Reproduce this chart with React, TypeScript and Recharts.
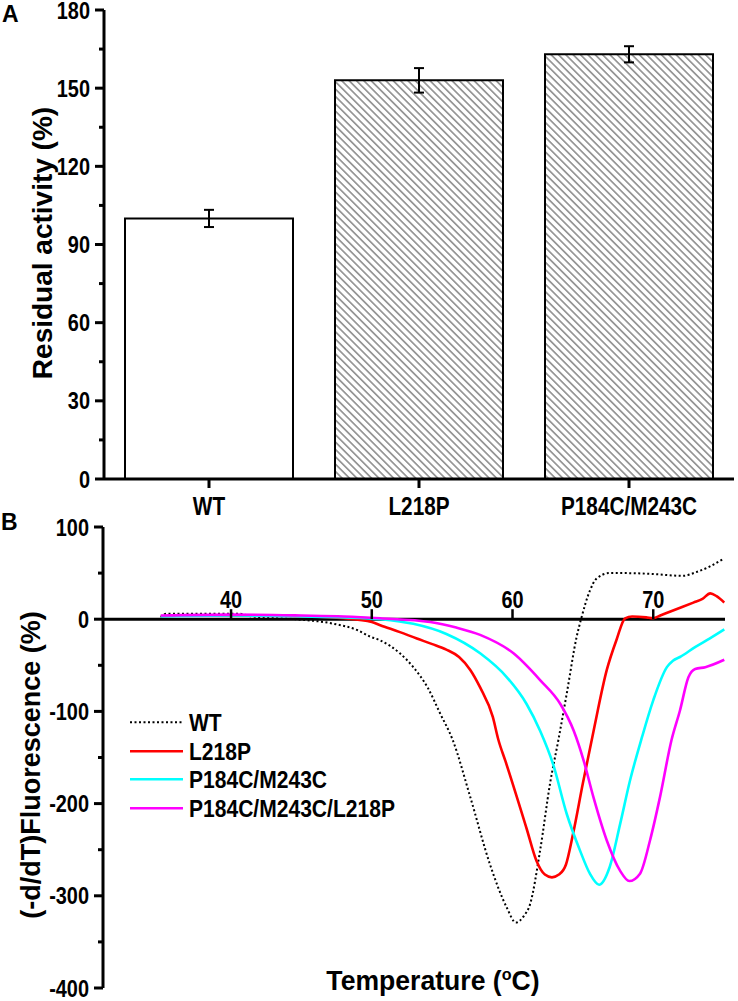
import {
  Bar,
  BarChart,
  Cell,
  ErrorBar,
  Legend,
  Line,
  LineChart,
  ReferenceDot,
  ReferenceLine,
  XAxis,
  YAxis,
} from "recharts";

const FONT = "'Liberation Sans', Arial, Helvetica, sans-serif";
// the figure's lettering is condensed horizontally
const SX = 0.83;

// ---- panel A: residual activity ----
const variants = ["WT", "L218P", "P184C/M243C"];
const activity = [100, 153, 163];
const activityErr = [3.3, 4.7, 3.1];
const activityTicks = [0, 15, 30, 45, 60, 75, 90, 105, 120, 135, 150, 165, 180];

// ---- panel B: melting curves, -d/dT fluorescence ----
const wtTemp = [35, 35.4, 38, 40.5, 41.5, 44.6, 47.3, 49, 49.9, 50.6, 52, 52.95, 54, 54.85, 55.75, 57, 58.4, 59.6, 60.24, 60.8, 61.25, 61.96, 62.67, 63.26, 63.85, 64.56, 64.87, 65.5, 65.97, 66.9, 68, 70, 72.1, 73.05, 74, 75.05];
const wtDeriv = [2, 6, 6, 6, 3, 0, -5, -12, -19, -23, -37, -52, -75, -102, -131, -193, -266, -313, -329, -322, -309, -251, -178, -131, -81, -19, 0, 31, 44, 50, 50, 49, 47, 51, 57, 66];

const l218pTemp = [35, 37, 40, 45, 48, 50, 50.6, 52, 53.2, 54.3, 55.3, 56.2, 57, 57.7, 58.6, 59, 59.5, 61, 61.7, 62.3, 62.8, 63.3, 63.8, 64.3, 65, 65.75, 66.7, 67.4, 68, 68.5, 69.5, 70, 70.5, 71.5, 72.85, 73.5, 74.05, 74.5, 75.05];
const l218pDeriv = [3, 4, 4, 3, 1, -3, -6.5, -14, -21, -27, -33, -41, -55, -74, -106, -131, -154, -227, -262, -277, -280, -277, -266, -233, -178, -122, -55, -22, 1, 3, 2, 1, 4, 10, 18, 22, 28, 25, 18];

const dsTemp = [35, 40, 45, 48, 50.6, 52.95, 55.3, 57.7, 59.6, 61, 61.96, 62.9, 63.85, 64.8, 65.5, 66.15, 66.9, 67.65, 68.35, 69.2, 70, 70.97, 71.4, 71.9, 73, 74, 75.05];
const dsDeriv = [3, 4, 3, 2, 0, -5, -16, -37, -63, -92, -121, -158, -211, -251, -276, -288, -269, -222, -175, -128, -88, -52, -45, -41, -30, -21, -11];

const dsL218pTemp = [35, 40, 45, 48, 50.6, 54.15, 56, 57.7, 60.07, 61.96, 63.4, 64.35, 65.05, 65.75, 66.7, 67.65, 68.3, 69.06, 69.77, 70.48, 71.3, 71.9, 72.5, 72.98, 73.7, 75.05];
const dsL218pDeriv = [4, 5, 4, 3, 1, -3, -9, -17, -37, -66, -92, -121, -153, -193, -240, -273, -284, -276, -240, -193, -131, -99, -63, -54, -52, -44];

const tempTicks = [40, 50, 60, 70];
const derivTicks = [100, 50, 0, -50, -100, -150, -200, -250, -300, -350, -400];

const toPoints = (t: number[], v: number[]) => t.map((x, i) => ({ t: x, v: v[i] }));

const SERIES = [
  { name: "WT", data: toPoints(wtTemp, wtDeriv), color: "#000000", dash: "2 2.5", width: 2 },
  { name: "L218P", data: toPoints(l218pTemp, l218pDeriv), color: "#ff0000", dash: undefined, width: 2.6 },
  { name: "P184C/M243C", data: toPoints(dsTemp, dsDeriv), color: "#00ffff", dash: undefined, width: 2.6 },
  { name: "P184C/M243C/L218P", data: toPoints(dsL218pTemp, dsL218pDeriv), color: "#ff00ff", dash: undefined, width: 2.6 },
];

const barData = variants.map((name, i) => ({ name, value: activity[i], err: activityErr[i] }));

const axisStyle = { stroke: "#000", strokeWidth: 3 };

function YTick(props: any) {
  const { x, y, payload, step } = props;
  const major = payload.value % step === 0;
  return (
    <g>
      <line x1={x} x2={x - (major ? 9 : 5)} y1={y} y2={y} stroke="#000" strokeWidth={3} />
      {major && (
        <text
          transform={`translate(${x - 14},${y + 8.5}) scale(${SX},1)`}
          textAnchor="end"
          fontSize={24}
          fontWeight="bold"
          fontFamily={FONT}
          fill="#000"
        >
          {payload.value}
        </text>
      )}
    </g>
  );
}

function CatTick(props: any) {
  const { x, y, payload } = props;
  return (
    <g>
      <line x1={x} x2={x} y1={y} y2={y + 9} stroke="#000" strokeWidth={3} />
      <text
        transform={`translate(${x},${y + 36}) scale(${SX},1)`}
        textAnchor="middle"
        fontSize={25}
        fontWeight="bold"
        fontFamily={FONT}
        fill="#000"
      >
        {payload.value}
      </text>
    </g>
  );
}

function TempTick({ cx, cy, label }: any) {
  return (
    <g>
      <line x1={cx} x2={cx} y1={cy} y2={cy - 10} stroke="#000" strokeWidth={2.5} />
      <text
        transform={`translate(${cx},${cy - 11}) scale(${SX},1)`}
        textAnchor="middle"
        fontSize={24}
        fontWeight="bold"
        fontFamily={FONT}
        fill="#000"
      >
        {label}
      </text>
    </g>
  );
}

// keeps the series order of the figure (WT first)
function MeltLegend({ payload }: any) {
  const shown = new Set((payload || []).map((e: any) => e.value));
  return (
    <div>
      {SERIES.filter((s) => shown.has(s.name)).map((s) => (
        <svg key={s.name} width={330} height={28.7} style={{ display: "block" }}>
          <line x1={0} x2={53} y1={14.3} y2={14.3} stroke={s.color} strokeWidth={s.width} strokeDasharray={s.dash} />
          <text
            transform={`translate(59,${14.3 + 8.8}) scale(0.86,1)`}
            fontSize={24.5}
            fontWeight="bold"
            fontFamily={FONT}
            fill="#000"
          >
            {s.name}
          </text>
        </svg>
      ))}
    </div>
  );
}

function ActivityChart() {
  return (
    <BarChart
      width={738}
      height={530}
      data={barData}
      margin={{ top: 10, right: 4, bottom: 0, left: 44 }}
      barCategoryGap="10%"
    >
      <XAxis
        dataKey="name"
        height={51}
        interval={0}
        tickLine={false}
        tickSize={0}
        tickMargin={0}
        axisLine={axisStyle}
        tick={<CatTick />}
      />
      <YAxis
        width={60}
        domain={[0, 180]}
        ticks={activityTicks}
        interval={0}
        tickLine={false}
        tickSize={0}
        tickMargin={0}
        axisLine={axisStyle}
        tick={(p: any) => <YTick {...p} step={30} />}
      />
      <Bar dataKey="value" stroke="#000" strokeWidth={2} isAnimationActive={false}>
        {barData.map((d, i) => (
          <Cell key={d.name} fill={i === 0 ? "#ffffff" : "url(#hatch)"} />
        ))}
        <ErrorBar dataKey="err" width={5} stroke="#000" strokeWidth={2} direction="y" />
      </Bar>
    </BarChart>
  );
}

function MeltChart() {
  return (
    <LineChart width={738} height={496} margin={{ top: 22, right: 13, bottom: 13, left: 43 }}>
      <XAxis type="number" dataKey="t" domain={[30.9, 75.1]} allowDataOverflow hide />
      <YAxis
        width={60}
        domain={[-400, 100]}
        ticks={derivTicks}
        interval={0}
        tickLine={false}
        tickSize={0}
        tickMargin={0}
        axisLine={axisStyle}
        tick={(p: any) => <YTick {...p} step={100} />}
      />
      <ReferenceLine y={0} stroke="#000" strokeWidth={3} />
      {tempTicks.map((t) => (
        <ReferenceDot
          key={t}
          x={t}
          y={0}
          r={0}
          shape={(p: any) => <TempTick cx={p.cx} cy={p.cy} label={t} />}
        />
      ))}
      {SERIES.map((s) => (
        <Line
          key={s.name}
          data={s.data}
          dataKey="v"
          name={s.name}
          type="monotone"
          stroke={s.color}
          strokeWidth={s.width}
          strokeDasharray={s.dash}
          dot={false}
          activeDot={false}
          isAnimationActive={false}
        />
      ))}
      <Legend
        layout="vertical"
        align="center"
        verticalAlign="middle"
        wrapperStyle={{ left: 130, top: 203, width: 330 }}
        content={<MeltLegend />}
      />
    </LineChart>
  );
}

export default function App() {
  return (
    <div
      style={{
        position: "absolute",
        left: 0,
        top: 0,
        width: 738,
        height: 1001,
        background: "#fff",
        fontFamily: FONT,
        overflow: "hidden",
      }}
    >
      <svg width={0} height={0} style={{ position: "absolute" }}>
        <defs>
          <pattern id="hatch" patternUnits="userSpaceOnUse" width={5.2} height={5.2} patternTransform="rotate(-45)">
            <rect width={5.2} height={5.2} fill="#fff" />
            <line x1={2.6} x2={2.6} y1={0} y2={5.2} stroke="#5a5a5a" strokeWidth={1.1} />
          </pattern>
        </defs>
      </svg>
      <div style={{ position: "absolute", left: 0, top: 0 }}>
        <ActivityChart />
      </div>
      <div style={{ position: "absolute", left: 0, top: 505 }}>
        <MeltChart />
      </div>
      <svg
        width={738}
        height={1001}
        style={{ position: "absolute", left: 0, top: 0, pointerEvents: "none" }}
        fontFamily={FONT}
        fontWeight="bold"
        fill="#000"
      >
        <text x={2} y={22} fontSize={23}>A</text>
        <text x={1} y={530} fontSize={23}>B</text>
        <text transform="translate(52,243) rotate(-90)" textAnchor="middle" fontSize={28}>
          Residual activity (%)
        </text>
        <text transform="translate(40,765) rotate(-90)" textAnchor="middle" fontSize={27}>
          (-d/dT)Fluorescence (%)
        </text>
        <text transform={`translate(433,990) scale(0.95,1)`} textAnchor="middle" fontSize={28}>
          Temperature (
          <tspan dy={-10} fontSize={17}>o</tspan>
          <tspan dy={10}>C)</tspan>
        </text>
      </svg>
    </div>
  );
}
